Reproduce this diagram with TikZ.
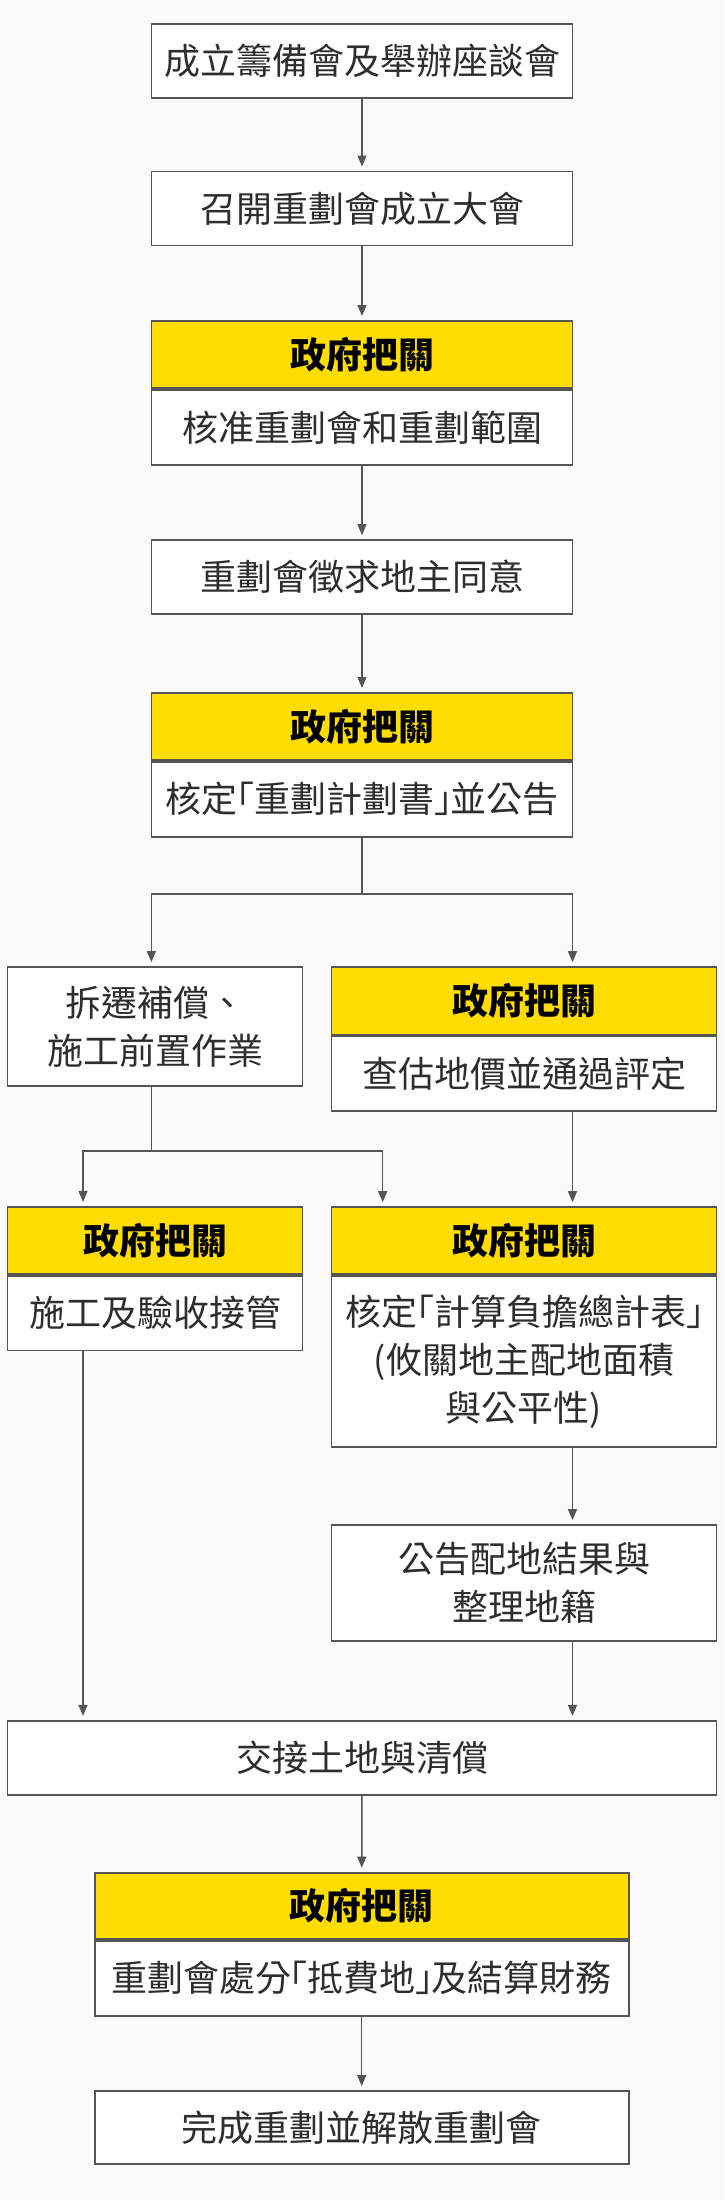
\documentclass[tikz,border=0pt]{standalone}
\usepackage{fontspec}
\setmainfont{Noto Sans CJK TC}
\usetikzlibrary{positioning,arrows.meta}
\definecolor{govyellow}{HTML}{FFDD00}
\definecolor{linegray}{HTML}{555555}
\definecolor{textgray}{HTML}{2E2E2E}
\definecolor{bggray}{HTML}{FAFAFA}
% narrow corner brackets
\newcommand{\openq}{\makebox[0.45em][r]{「}}
\newcommand{\closeq}{\makebox[0.45em][l]{」}}
\tikzset{
  box/.style={draw=linegray, line width=0.9pt, fill=white, align=center, inner sep=0pt,
    text=textgray, font=\fontsize{18}{24}\selectfont},
  govhead/.style={box, fill=govyellow, text=black, font=\fontsize{18}{24}\selectfont\bfseries},
  link/.style={draw=linegray, line width=0.7pt},
  arr/.style={link, -{Triangle[length=5.5pt,width=4.5pt]}, shorten >=2pt},
}
\begin{document}
\begin{tikzpicture}[x=0.5pt,y=-0.5pt]
    \fill[bggray] (0,0) rectangle (724,2200);
    % main column
    \node[box, minimum width=210.5pt, minimum height=37pt] (b1) at (362,61) {成立籌備會及舉辦座談會};
    \node[box, minimum width=210.5pt, minimum height=37pt] (b2) at (362,208.4) {召開重劃會成立大會};
    \node[govhead, minimum width=210.5pt, minimum height=33.5pt] (g3h) at (362,354.4) {政府把關};
    \node[box, below=0pt of g3h, minimum width=210.5pt, minimum height=37.5pt] (g3) {核准重劃會和重劃範圍};
    \node[box, minimum width=210.5pt, minimum height=37pt] (b4) at (362,577) {重劃會徵求地主同意};
    \node[govhead, minimum width=210.5pt, minimum height=33.5pt] (g5h) at (362,726.5) {政府把關};
    \node[box, below=0pt of g5h, minimum width=210.5pt, minimum height=37.5pt] (g5) {核定\openq 重劃計劃書\closeq 並公告};
    \draw[arr] (b1) -- (b2);
    \draw[arr] (b2) -- (g3h);
    \draw[arr] (g3) -- (b4);
    \draw[arr] (b4) -- (g5h);

    % two branches
    \node[box, minimum width=147.5pt, minimum height=59.5pt] (L6) at (155,1026.5) {拆遷補償、\\施工前置作業};
    \node[govhead, minimum width=192.5pt, minimum height=33.8pt] (R7h) at (524,1000.8) {政府把關};
    \node[box, below=0pt of R7h, minimum width=192.5pt, minimum height=37.2pt] (R7) {查估地價並通過評定};
    \node[govhead, minimum width=147.5pt, minimum height=33.6pt] (L8h) at (155,1240.4) {政府把關};
    \node[box, below=0pt of L8h, minimum width=147.5pt, minimum height=37.3pt] (L8) {施工及驗收接管};
    \node[govhead, minimum width=192.5pt, minimum height=33.5pt] (R9h) at (524,1240.5) {政府把關};
    \node[box, below=0pt of R9h, minimum width=192.5pt, minimum height=85.5pt] (R9) {核定\openq 計算負擔總計表\closeq\\(攸關地主配地面積\\與公平性)};
    \node[box, minimum width=192.5pt, minimum height=58pt] (R10) at (524,1583) {公告配地結果與\\整理地籍};

    \coordinate (s1) at (362,894); \coordinate (s1l) at (151.4,894); \coordinate (s1r) at (572.5,894);
    \coordinate (s2) at (151.4,1151); \coordinate (s2l) at (83,1151); \coordinate (s2r) at (382.7,1151);
    \draw[link] (g5) -- (s1);
    \draw[arr] (s1) -- (s1l) -- (s1l |- L6.north);
    \draw[arr] (s1) -- (s1r) -- (s1r |- R7h.north);
    \draw[link] (s1l |- L6.south) -- (s2);
    \draw[arr] (s2) -- (s2l) -- (s2l |- L8h.north);
    \draw[arr] (s2) -- (s2r) -- (s2r |- R9h.north);
    \draw[arr] (s1r |- R7.south) -- (s1r |- R9h.north);
    \draw[arr] (s1r |- R9.south) -- (s1r |- R10.north);

    % joined again
    \node[box, minimum width=354.5pt, minimum height=37pt] (b11) at (362,1757.8) {交接土地與清償};
    \node[govhead, minimum width=267pt, minimum height=33.2pt] (g12h) at (361.7,1905.8) {政府把關};
    \node[box, below=0pt of g12h, minimum width=267pt, minimum height=37.5pt] (g12) {重劃會處分\openq 抵費地\closeq 及結算財務};
    \node[box, minimum width=267pt, minimum height=36.6pt] (b13) at (361.7,2127.6) {完成重劃並解散重劃會};
    \draw[arr] (s2l |- L8.south) -- (s2l |- b11.north);
    \draw[arr] (s1r |- R10.south) -- (s1r |- b11.north);
    \draw[arr] (b11) -- (g12h);
    \draw[arr] (g12) -- (b13);
\end{tikzpicture}
\end{document}
